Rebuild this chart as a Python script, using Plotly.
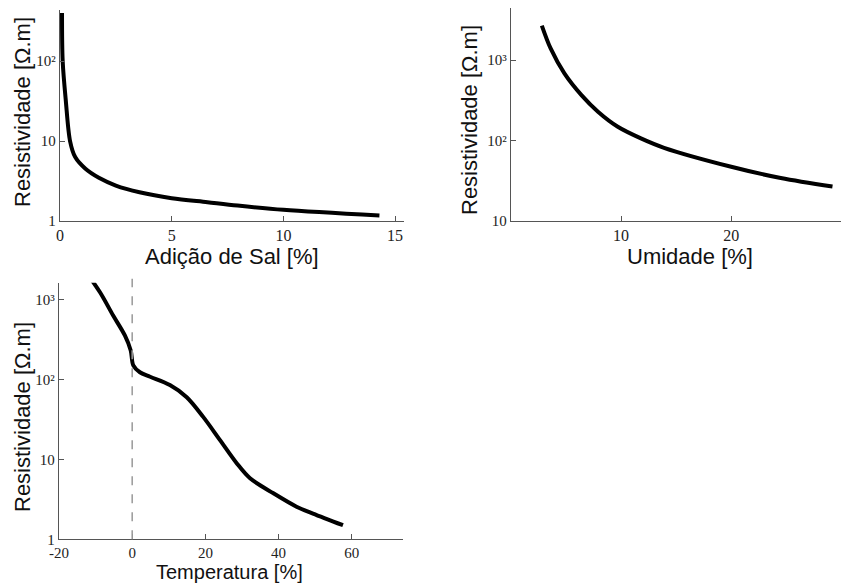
import plotly.graph_objects as go

# ---- data ----
sal_x = [0.09, 0.12, 0.26, 0.45, 0.68, 1.14, 1.74, 2.5, 3.56, 5.0, 6.6, 7.95, 10.0, 14.3]
sal_y = [400, 100, 32, 10, 6.3, 4.5, 3.47, 2.78, 2.29, 1.93, 1.72, 1.56, 1.38, 1.17]

umid_x = [2.8, 3.6, 4.85, 6.4, 7.9, 9.7, 11.8, 13.9, 20.0, 24.5, 29.2]
umid_y = [2700, 1400, 685, 367, 228, 148, 106, 81, 47, 34, 26.6]

temp_x = [-12.9, -8.8, -5.2, -2.0, -0.4, 0.3, 2.1, 4.9, 10.3, 14.9, 19.4, 24.0, 28.6, 32.2, 38.6, 44.9, 49.4, 57.6]
temp_y = [2300, 1230, 630, 355, 230, 150, 123, 108, 85, 60, 34, 17.4, 8.9, 5.8, 3.76, 2.56, 2.1, 1.5]

y_ticks_1 = [1, 10, 100]
y_text_1 = ["1", "10", "10²"]
y_ticks_2 = [10, 100, 1000]
y_text_2 = ["10", "10²", "10³"]
y_ticks_3 = [1, 10, 100, 1000]
y_text_3 = ["1", "10", "10²", "10³"]
x_ticks_1 = [0, 5, 10, 15]
x_text_1 = ["0", "5", "10", "15"]
x_ticks_2 = [10, 20, 30]
x_text_2 = ["10", "20", "30"]
x_ticks_3 = [-20, 0, 20, 40, 60]
x_text_3 = ["-20", "0", "20", "40", "60"]

y_title = "Resistividade [Ω.m]"
x_title_1 = "Adição de Sal [%]"
x_title_2 = "Umidade [%]"
x_title_3 = "Temperatura [%]"

# the page body has an 8px margin; the figure is sized to fill the rest of the window
OFF = 8
W, H = 849 - OFF, 585 - OFF

fig = go.Figure()
line = dict(color="black", width=4, shape="spline", smoothing=0.9)
fig.add_trace(go.Scatter(x=sal_x, y=sal_y, mode="lines", line=line, xaxis="x", yaxis="y"))
fig.add_trace(go.Scatter(x=umid_x, y=umid_y, mode="lines", line=line, xaxis="x2", yaxis="y2"))
fig.add_trace(go.Scatter(x=temp_x, y=temp_y, mode="lines", line=line, xaxis="x3", yaxis="y3"))

xtickfont = dict(family="Liberation Serif", size=16, color="#222")
xtickfont3 = dict(family="Liberation Serif", size=15, color="#222")
ytickfont = dict(family="Liberation Serif", size=15, color="#222")
axis_common = dict(showline=True, linecolor="#555", linewidth=1.3, ticks="inside", ticklen=5,
                   tickcolor="#555", tickwidth=1.2, showgrid=False, zeroline=False,
                   automargin=False, fixedrange=True)

def px(xp):
    return min(1.0, max(0.0, (xp - OFF) / W))

def py(yp):
    return min(1.0, max(0.0, (H - (yp - OFF)) / H))

fig.update_layout(
    width=W, height=H, margin=dict(l=0, r=0, t=0, b=0, pad=0),
    paper_bgcolor="white", plot_bgcolor="white", showlegend=False,
    xaxis=dict(domain=[px(60), px(404)], range=[0, 15.4], tickvals=x_ticks_1, ticktext=x_text_1,
               tickfont=xtickfont, anchor="y", **axis_common),
    yaxis=dict(domain=[py(221), py(10)], type="log", range=[0, 2.64], tickvals=y_ticks_1,
               ticktext=y_text_1, tickfont=ytickfont, anchor="x", **axis_common),
    xaxis2=dict(domain=[px(511), 1.0], range=[0, 30.7], tickvals=x_ticks_2, ticktext=x_text_2,
                tickfont=xtickfont, anchor="y2", **axis_common),
    yaxis2=dict(domain=[py(220.7), py(8)], type="log", range=[1, 3.65], tickvals=y_ticks_2,
                ticktext=y_text_2, tickfont=ytickfont, anchor="x2", **axis_common),
    xaxis3=dict(domain=[px(59), px(403)], range=[-20, 74], tickvals=x_ticks_3, ticktext=x_text_3,
                tickfont=xtickfont3, anchor="y3", **axis_common),
    yaxis3=dict(domain=[py(539.3), py(282.7)], type="log", range=[0, 3.21], tickvals=y_ticks_3,
                ticktext=y_text_3, tickfont=ytickfont, anchor="x3", **axis_common),
)

fig.add_shape(type="line", xref="x3", yref="y3 domain", x0=0, x1=0, y0=0, y1=1.015,
              line=dict(color="#999", width=1.5, dash="dash"))

title_font = dict(family="Liberation Sans", size=22, color="#111")
title_font3 = dict(family="Liberation Sans", size=20, color="#111")
anns = [
    dict(text=y_title, x=px(22), y=py(112), textangle=-90, font=title_font),
    dict(text=y_title, x=px(469), y=py(120), textangle=-90, font=title_font),
    dict(text=y_title, x=px(22), y=py(417), textangle=-90, font=title_font),
    dict(text=x_title_1, x=px(232), y=py(256), textangle=0, font=title_font),
    dict(text=x_title_2, x=px(690), y=py(256), textangle=0, font=title_font),
    dict(text=x_title_3, x=px(229), y=py(572), textangle=0, font=title_font3),
]
for a in anns:
    fig.add_annotation(xref="paper", yref="paper", showarrow=False, xanchor="center",
                       yanchor="middle", **a)

fig.write_html("out.html")
